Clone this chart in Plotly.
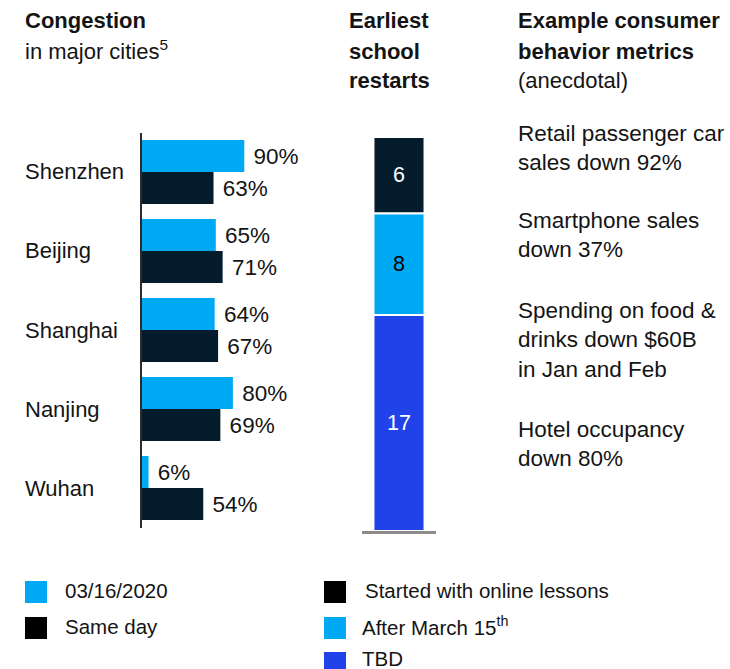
import plotly.graph_objects as go

W, H = 730, 669
def fx(px): return px / W
def fy(py): return 1 - py / H

# ---------------- data ----------------
cities = ["Shenzhen", "Beijing", "Shanghai", "Nanjing", "Wuhan"]
congestion_0316 = [90, 65, 64, 80, 6]
congestion_same_day = [63, 71, 67, 69, 54]

school_labels = ["TBD", "After March 15<sup>th</sup>", "Started with online lessons"]
school_values = [17, 8, 6]

left_legend = ["03/16/2020", "Same day"]
right_legend = ["Started with online lessons", "After March 15<sup>th</sup>", "TBD"]

metrics = [
    "Retail passenger car<br>sales down 92%",
    "Smartphone sales<br>down 37%",
    "Spending on food &<br>drinks down $60B<br>in Jan and Feb",
    "Hotel occupancy<br>down 80%",
]

# ---------------- style ----------------
CYAN = "#00A9F4"
NAVY = "#051C2C"
BLUE = "#2142E8"
TXT = "#141414"
FONT = "Liberation Sans, Arial, sans-serif"

fig = go.Figure()

fig.add_trace(go.Bar(
    y=cities, x=congestion_0316, orientation="h", name=left_legend[0],
    marker=dict(color=CYAN, line=dict(width=0)),
    text=[f" {v}%" for v in congestion_0316], textposition="outside",
    textfont=dict(size=22.5, color=TXT, family=FONT),
    cliponaxis=False, constraintext="none", xaxis="x", yaxis="y",
    showlegend=False,
))
fig.add_trace(go.Bar(
    y=cities, x=congestion_same_day, orientation="h", name=left_legend[1],
    marker=dict(color=NAVY, line=dict(width=0)),
    text=[f" {v}%" for v in congestion_same_day], textposition="outside",
    textfont=dict(size=22.5, color=TXT, family=FONT),
    cliponaxis=False, constraintext="none", xaxis="x", yaxis="y",
    showlegend=False,
))

seg_colors = [BLUE, CYAN, NAVY]
seg_text_colors = ["white", "black", "white"]
cum = 0
for lab, v, c, tc in zip(school_labels, school_values, seg_colors, seg_text_colors):
    fig.add_trace(go.Bar(
        x=[0], y=[v], base=[cum], width=0.69, offsetgroup="s", name=lab,
        marker=dict(color=c, line=dict(color="white", width=2)),
        text=[str(v)], textposition="inside", insidetextanchor="middle",
        textfont=dict(size=21.5, color=tc, family=FONT),
        constraintext="none", xaxis="x2", yaxis="y2", showlegend=False,
    ))
    cum += v
total = cum

annotations = []
shapes = []

# category labels (left aligned)
for c in cities:
    annotations.append(dict(text=c, x=fx(23), xref="paper", xanchor="left",
                            y=c, yref="y", yanchor="middle", showarrow=False,
                            font=dict(size=22, color=TXT, family=FONT)))

# titles
def title(text, x, y):
    annotations.append(dict(text=text, x=fx(x), xref="paper", xanchor="left",
                            y=fy(y), yref="paper", yanchor="middle", showarrow=False,
                            align="left", font=dict(size=22, color=TXT, family=FONT)))

title("<b>Congestion</b>", 23, 21)
title("in major cities<sup>5</sup>", 23, 50)
title("<b>Earliest</b>", 347, 21)
title("<b>school</b>", 347, 51)
title("<b>restarts</b>", 347, 80)
title("<b>Example consumer</b>", 516, 21)
title("<b>behavior metrics</b>", 516, 51)
title("(anecdotal)", 516, 80)

# right metric text
metric_y = [148, 235, 340, 444]
for t, y in zip(metrics, metric_y):
    annotations.append(dict(text=t, x=fx(516), xref="paper", xanchor="left",
                            y=fy(y), yref="paper", yanchor="middle", showarrow=False,
                            align="left", font=dict(size=22.5, color=TXT, family=FONT)))

# legends
left_colors = [CYAN, "#000000"]
right_colors = ["#000000", CYAN, BLUE]
rows = [592, 628, 663]
text_rows = [590, 626, 658]
for lab, col, y, ty in zip(left_legend, left_colors, rows, text_rows):
    shapes.append(dict(type="rect", xref="paper", yref="paper",
                       x0=fx(25), x1=fx(47), y0=fy(y - 11), y1=fy(y + 11),
                       fillcolor=col, line=dict(width=0)))
    annotations.append(dict(text=lab, x=fx(64), xref="paper", xanchor="left",
                            y=fy(ty), yref="paper", yanchor="middle", showarrow=False,
                            borderpad=0,
                            font=dict(size=20.5, color=TXT, family=FONT)))
for i, (lab, col, y, ty) in enumerate(zip(right_legend, right_colors, rows, text_rows)):
    shapes.append(dict(type="rect", xref="paper", yref="paper",
                       x0=fx(324), x1=fx(346), y0=fy(y - 11), y1=fy(y + 11),
                       fillcolor=col, line=dict(width=0)))
    annotations.append(dict(text=lab, x=fx(364 if i == 0 else 361), xref="paper", xanchor="left",
                            y=fy(ty), yref="paper", yanchor="middle", showarrow=False,
                            borderpad=0,
                            font=dict(size=20.5, color=TXT, family=FONT)))

fig.update_layout(
    width=W, height=H, margin=dict(l=0, r=0, t=0, b=0),
    paper_bgcolor="white", plot_bgcolor="rgba(0,0,0,0)",
    barmode="group", bargap=0.19, bargroupgap=0,
    font=dict(family=FONT, color=TXT),
    showlegend=False,
    xaxis=dict(domain=[fx(141.7), fx(141.7 + 114)], range=[0, 100], anchor="y",
               showgrid=False, zeroline=False, showticklabels=False, showline=False, ticks=""),
    yaxis=dict(domain=[fy(527.5), fy(132.5)], type="category", categoryarray=cities,
               categoryorder="array", range=[len(cities) - 0.5, -0.5], anchor="x",
               showgrid=False, zeroline=False, showticklabels=False, ticks="",
               showline=True, linecolor="#2b2b2b", linewidth=1.5),
    xaxis2=dict(domain=[fx(362), fx(436)], range=[-0.5, 0.5], anchor="y2",
                showgrid=False, zeroline=False, showticklabels=False, ticks="",
                showline=True, linecolor="#8c8c8c", linewidth=2.5),
    yaxis2=dict(domain=[fy(531), fy(137)], range=[0, total], anchor="x2",
                showgrid=False, zeroline=False, showticklabels=False, ticks="",
                showline=False),
    annotations=annotations, shapes=shapes,
)

fig.write_html(
    "out.html",
    config={"displayModeBar": False},
    post_script="document.body.style.margin='0';document.body.style.padding='0';document.body.style.overflow='hidden';",
)
